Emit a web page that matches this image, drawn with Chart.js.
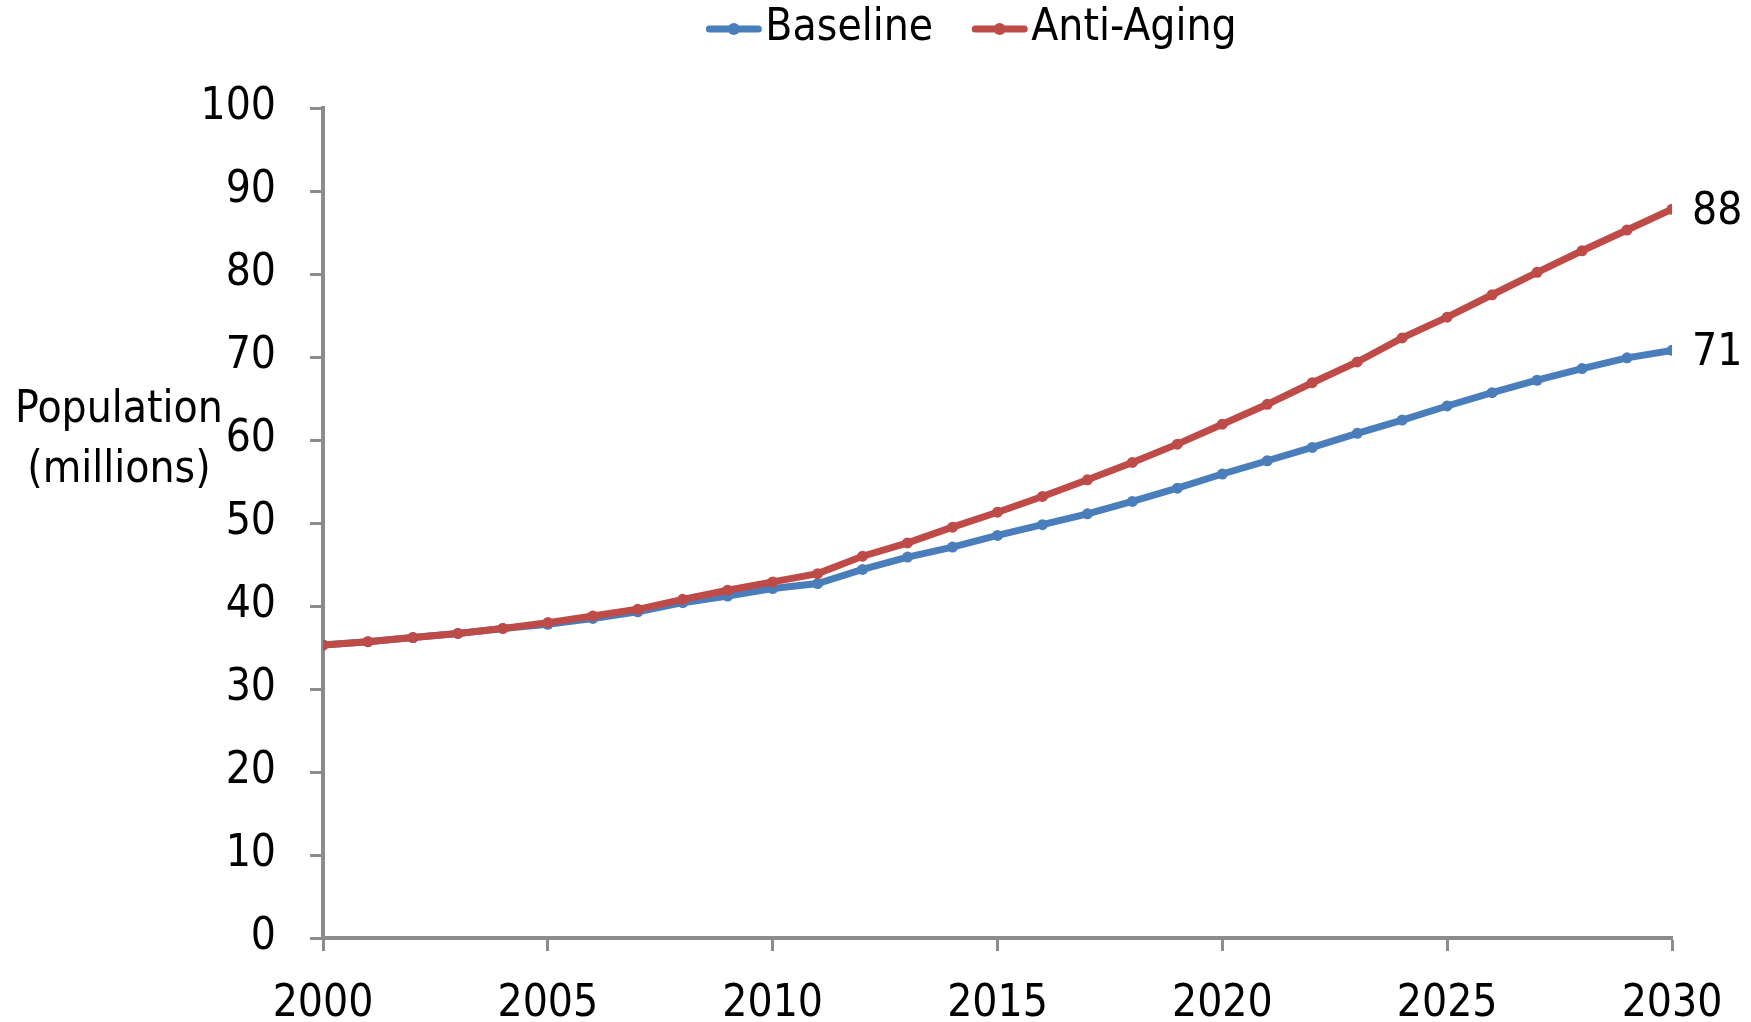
<!DOCTYPE html>
<html>
<head>
<meta charset="utf-8">
<title>Population projection</title>
<script src="https://cdn.jsdelivr.net/npm/chart.js@4.4.1/dist/chart.umd.min.js"></script>
<style>
  html, body { margin: 0; padding: 0; background: #ffffff; }
  #wrap { width: 1751px; height: 1022px; }
</style>
</head>
<body>
<div id="wrap"><canvas id="popChart" width="1751" height="1022"></canvas></div>
<script>
// Population in millions, one value per year
const years = [2000, 2001, 2002, 2003, 2004, 2005, 2006, 2007, 2008, 2009,
               2010, 2011, 2012, 2013, 2014, 2015, 2016, 2017, 2018, 2019,
               2020, 2021, 2022, 2023, 2024, 2025, 2026, 2027, 2028, 2029, 2030];
const baseline = [35.3, 35.7, 36.2, 36.7, 37.3, 37.8, 38.5, 39.3, 40.4, 41.2,
                  42.1, 42.7, 44.4, 45.9, 47.1, 48.5, 49.8, 51.1, 52.6, 54.2,
                  55.9, 57.5, 59.1, 60.8, 62.4, 64.1, 65.7, 67.2, 68.6, 69.9, 70.8];
const antiAging = [35.3, 35.7, 36.2, 36.7, 37.3, 38.0, 38.8, 39.6, 40.8, 41.9,
                   42.9, 43.9, 46.0, 47.6, 49.5, 51.3, 53.2, 55.2, 57.3, 59.5,
                   61.9, 64.3, 66.9, 69.4, 72.3, 74.8, 77.5, 80.2, 82.8, 85.3, 87.8];
const xTicks = [2000, 2005, 2010, 2015, 2020, 2025, 2030];
const yTicks = [0, 10, 20, 30, 40, 50, 60, 70, 80, 90, 100];
const yTitle = ["Population", "(millions)"];

const FONT = '"DejaVu Sans Condensed", "Liberation Sans Narrow", sans-serif';
const FONT_SIZE = 44;
const AXIS_GRAY = "#8c8c8c";
const BLUE = "#4a7ebb";
const RED = "#be4b48";

const series = [
  { label: "Anti-Aging", values: antiAging, color: RED, order: 0 },
  { label: "Baseline", values: baseline, color: BLUE, order: 1 }
];

// Legend, axis title and end-of-line values drawn on top of the chart
const annotations = {
  id: "annotations",
  afterDraw(chart) {
    const ctx = chart.ctx;
    ctx.save();
    ctx.font = FONT_SIZE + "px " + FONT;
    ctx.fillStyle = "#000";
    ctx.textBaseline = "middle";

    // y axis title, horizontal, two lines
    ctx.textAlign = "center";
    ctx.fillText(yTitle[0], 119, 411);
    ctx.fillText(yTitle[1], 119, 471);

    // value at the end of each line
    ctx.textAlign = "left";
    chart.data.datasets.forEach((ds, i) => {
      const meta = chart.getDatasetMeta(i);
      const last = meta.data[meta.data.length - 1];
      const v = ds.data[ds.data.length - 1].y;
      ctx.fillText(String(Math.round(v)), last.x + 20, last.y + 3);
    });

    // legend: line with marker, then label
    const items = [
      { text: "Baseline", color: BLUE },
      { text: "Anti-Aging", color: RED }
    ];
    const lineLen = 57, gap = 3, itemGap = 38;
    const widths = items.map(it => ctx.measureText(it.text).width);
    let total = 0;
    widths.forEach((w, i) => { total += lineLen + gap + w + (i ? itemGap : 0); });
    let x = 971 - total / 2;
    const y = 29;
    items.forEach((it, i) => {
      ctx.strokeStyle = it.color;
      ctx.fillStyle = it.color;
      ctx.lineWidth = 7;
      ctx.lineCap = "round";
      ctx.beginPath();
      ctx.moveTo(x + 4, y);
      ctx.lineTo(x + lineLen - 4, y);
      ctx.stroke();
      ctx.beginPath();
      ctx.arc(x + lineLen / 2, y, 6, 0, Math.PI * 2);
      ctx.fill();
      ctx.fillStyle = "#000";
      ctx.fillText(it.text, x + lineLen + gap, y);
      x += lineLen + gap + widths[i] + itemGap;
    });
    ctx.restore();
  }
};

const ctx = document.getElementById("popChart").getContext("2d");
new Chart(ctx, {
  type: "line",
  data: {
    datasets: series.map(s => ({
      label: s.label,
      data: years.map((yr, i) => ({ x: yr, y: s.values[i] })),
      borderColor: s.color,
      backgroundColor: s.color,
      borderWidth: 7,
      pointRadius: 5.5,
      pointBorderWidth: 0,
      pointBackgroundColor: s.color,
      tension: 0,
      fill: false,
      order: s.order
    }))
  },
  options: {
    responsive: false,
    animation: false,
    layout: { padding: { left: 0, right: 79, top: 108, bottom: 0 } },
    plugins: {
      legend: { display: false },
      tooltip: { enabled: false }
    },
    scales: {
      x: {
        type: "linear",
        min: 2000,
        max: 2030,
        afterBuildTicks: s => { s.ticks = xTicks.map(v => ({ value: v })); },
        afterFit: s => { s.height = 84; },
        ticks: {
          callback: v => String(v),
          color: "#000",
          padding: 27,
          maxRotation: 0,
          font: { family: FONT, size: FONT_SIZE }
        },
        grid: {
          drawOnChartArea: false,
          tickLength: 13,
          tickColor: AXIS_GRAY,
          tickWidth: 3
        },
        border: { color: AXIS_GRAY, width: 4 }
      },
      y: {
        min: 0,
        max: 100,
        afterBuildTicks: s => { s.ticks = yTicks.map(v => ({ value: v })); },
        afterFit: s => { s.width = 323; },
        ticks: {
          color: "#000",
          padding: 34,
          font: { family: FONT, size: FONT_SIZE }
        },
        grid: {
          drawOnChartArea: false,
          tickLength: 13,
          tickColor: AXIS_GRAY,
          tickWidth: 3
        },
        border: { color: AXIS_GRAY, width: 4 }
      }
    }
  },
  plugins: [annotations]
});
</script>
</body>
</html>
